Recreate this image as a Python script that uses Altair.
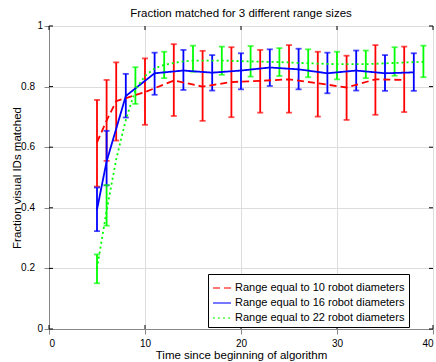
import altair as alt
import pandas as pd

FONT = "Liberation Sans"
W, H = 384, 303

names = ["Range equal to 10 robot diameters",
         "Range equal to 16 robot diameters",
         "Range equal to 22 robot diameters"]
colors = ["#ff0000", "#0000ff", "#00ff00"]
dashes = [[7, 4], [1, 0], [2, 3]]

# Range 10 (red)
red_err_x = [5, 6, 7, 10, 13, 16, 19, 22, 25, 28, 31, 34, 37]
red_lo = [0.470, 0.555, 0.622, 0.674, 0.703, 0.687, 0.699, 0.714, 0.714, 0.701, 0.690, 0.707, 0.716]
red_hi = [0.756, 0.822, 0.880, 0.893, 0.940, 0.918, 0.930, 0.921, 0.937, 0.915, 0.902, 0.937, 0.932]
red_line_x = [5, 6, 7, 10, 13, 16, 19, 22, 25, 28, 31, 34, 37]
red_line_y = [0.616, 0.688, 0.752, 0.782, 0.820, 0.800, 0.815, 0.819, 0.824, 0.811, 0.797, 0.824, 0.822]

# Range 16 (blue)
blue_err_x = [5, 6, 8, 11, 14, 17, 20, 23, 26, 29, 32, 35, 38]
blue_lo = [0.323, 0.474, 0.698, 0.773, 0.789, 0.787, 0.791, 0.802, 0.791, 0.778, 0.787, 0.786, 0.786]
blue_hi = [0.467, 0.654, 0.842, 0.912, 0.921, 0.904, 0.910, 0.923, 0.925, 0.912, 0.919, 0.904, 0.910]
blue_line_x = [5, 6, 8, 11, 14, 17, 20, 23, 26, 29, 32, 35, 38]
blue_line_y = [0.394, 0.553, 0.769, 0.844, 0.853, 0.846, 0.853, 0.863, 0.857, 0.844, 0.853, 0.844, 0.847]

# Range 22 (green)
green_err_x = [5, 6, 9, 12, 15, 18, 21, 24, 27, 30, 33, 36, 39]
green_lo = [0.151, 0.341, 0.743, 0.828, 0.849, 0.839, 0.833, 0.835, 0.831, 0.824, 0.828, 0.836, 0.831]
green_hi = [0.246, 0.475, 0.864, 0.915, 0.935, 0.932, 0.934, 0.927, 0.923, 0.915, 0.919, 0.930, 0.935]
green_line_x = [5, 6, 7, 8, 9, 10, 11, 12, 13, 14, 15, 18, 21, 24, 27, 30, 33, 36, 39]
green_line_y = [0.200, 0.390, 0.560, 0.690, 0.790, 0.835, 0.860, 0.872, 0.878, 0.883, 0.886, 0.886, 0.883, 0.881, 0.877, 0.874, 0.874, 0.878, 0.882]

x_ticks = [0, 10, 20, 30, 40]
y_ticks = [0, 0.2, 0.4, 0.6, 0.8, 1.0]

err_rows, line_rows = [], []
for nm, ex, lo, hi, lx, ly in [
    (names[0], red_err_x, red_lo, red_hi, red_line_x, red_line_y),
    (names[1], blue_err_x, blue_lo, blue_hi, blue_line_x, blue_line_y),
    (names[2], green_err_x, green_lo, green_hi, green_line_x, green_line_y),
]:
    for a, b, c in zip(ex, lo, hi):
        err_rows.append({"series": nm, "x": a, "lo": b, "hi": c})
    for i, (a, b) in enumerate(zip(lx, ly)):
        line_rows.append({"series": nm, "x": a, "y": b, "order": i})
err_df = pd.DataFrame(err_rows)
line_df = pd.DataFrame(line_rows)

xs = alt.Scale(domain=[0, 40], nice=False, zero=False)
ys = alt.Scale(domain=[0, 1], nice=False)
cs = alt.Scale(domain=names, range=colors)
ds = alt.Scale(domain=names, range=dashes)

x_enc = alt.X("x:Q", scale=xs,
              axis=alt.Axis(values=x_ticks, title="Time since beginning of algorithm",
                            labelPadding=4, titlePadding=1, format="d",
                            titleFontWeight="normal", titleFont=FONT, titleFontSize=11.5))
y_axis = alt.Axis(values=y_ticks, labels=False, title="Fraction visual IDs matched",
                  titleX=-32, titleY=H / 2, titleAngle=270, titleAlign="center",
                  titleBaseline="middle", titleFontWeight="normal", titleFont=FONT,
                  titleFontSize=11.5)

# MATLAB legend boxes leave empty room after the text: pad labels with no-break spaces
leg = alt.Legend(orient="none", legendX=159, legendY=248, title=None,
                 strokeColor="black", fillColor="white",
                 padding=4, labelFontSize=11, labelFont=FONT,
                 labelLimit=500, symbolSize=324,
                 symbolStrokeWidth=1.5, rowPadding=0,
                 symbolType="stroke", labelOffset=3,
                 labelExpr="datum.label + '\u00a0\u00a0\u00a0\u00a0\u00a0\u00a0\u00a0\u00a0'")

bars = alt.Chart(err_df).mark_rule(strokeWidth=1.8).encode(
    x=x_enc,
    y=alt.Y("lo:Q", scale=ys, axis=y_axis),
    y2="hi:Q",
    color=alt.Color("series:N", scale=cs, legend=leg),
)
cap_lo = alt.Chart(err_df).mark_tick(orient="horizontal", size=6, thickness=1.8).encode(
    x=alt.X("x:Q", scale=xs), y=alt.Y("lo:Q", scale=ys),
    color=alt.Color("series:N", scale=cs, legend=leg),
)
cap_hi = alt.Chart(err_df).mark_tick(orient="horizontal", size=6, thickness=1.8).encode(
    x=alt.X("x:Q", scale=xs), y=alt.Y("hi:Q", scale=ys),
    color=alt.Color("series:N", scale=cs, legend=leg),
)

lines = alt.Chart(line_df).mark_line(strokeWidth=1.8).encode(
    x=alt.X("x:Q", scale=xs),
    y=alt.Y("y:Q", scale=ys),
    order="order:Q",
    color=alt.Color("series:N", scale=cs, legend=leg),
    strokeDash=alt.StrokeDash("series:N", scale=ds, legend=leg),
)

xt = pd.DataFrame({"v": x_ticks})
yt = pd.DataFrame({"v": y_ticks})
tick_len = 4
xt_bot = alt.Chart(xt).mark_rule(color="black", strokeWidth=1).encode(
    x=alt.X("v:Q", scale=xs), y=alt.value(H), y2=alt.value(H - tick_len))
xt_top = alt.Chart(xt).mark_rule(color="black", strokeWidth=1).encode(
    x=alt.X("v:Q", scale=xs), y=alt.value(0), y2=alt.value(tick_len))
yt_l = alt.Chart(yt).mark_rule(color="black", strokeWidth=1).encode(
    y=alt.Y("v:Q", scale=ys), x=alt.value(0), x2=alt.value(tick_len))
yt_r = alt.Chart(yt).mark_rule(color="black", strokeWidth=1).encode(
    y=alt.Y("v:Q", scale=ys), x=alt.value(W), x2=alt.value(W - tick_len))

ylab_int = alt.Chart(yt).transform_filter("datum.v == 0 || datum.v == 1").transform_calculate(
    lab="format(datum.v, '.1~f')").mark_text(
    align="right", baseline="middle", fontSize=10, font=FONT, color="black").encode(
    y=alt.Y("v:Q", scale=ys), x=alt.value(-6), text="lab:N")
ylab_frac = alt.Chart(yt).transform_filter("datum.v > 0 && datum.v < 1").transform_calculate(
    lab="format(datum.v, '.1~f')").mark_text(
    align="right", baseline="middle", fontSize=10, font=FONT, color="black").encode(
    y=alt.Y("v:Q", scale=ys), x=alt.value(-14), text="lab:N")

chart = alt.layer(
    bars, cap_lo, cap_hi, lines, xt_bot, xt_top, yt_l, yt_r, ylab_int, ylab_frac
).properties(
    width=W, height=H,
    title=alt.Title("Fraction matched for 3 different range sizes", fontSize=11.5,
                    font=FONT, fontWeight="normal", offset=2, anchor="middle"),
    autosize=alt.AutoSizeParams(type="none"),
    padding={"left": 49, "top": 26, "right": 3, "bottom": 33},
).configure_view(stroke="black", strokeWidth=1).configure_axis(
    domain=False, ticks=False, grid=False, labelFont=FONT, labelFontSize=10,
    labelColor="black", titleFont=FONT, titleFontSize=11.5, titleFontWeight="normal",
    titleColor="black",
).configure(background="white")

chart.save("out.html", embed_options={"renderer": "svg", "actions": False})
